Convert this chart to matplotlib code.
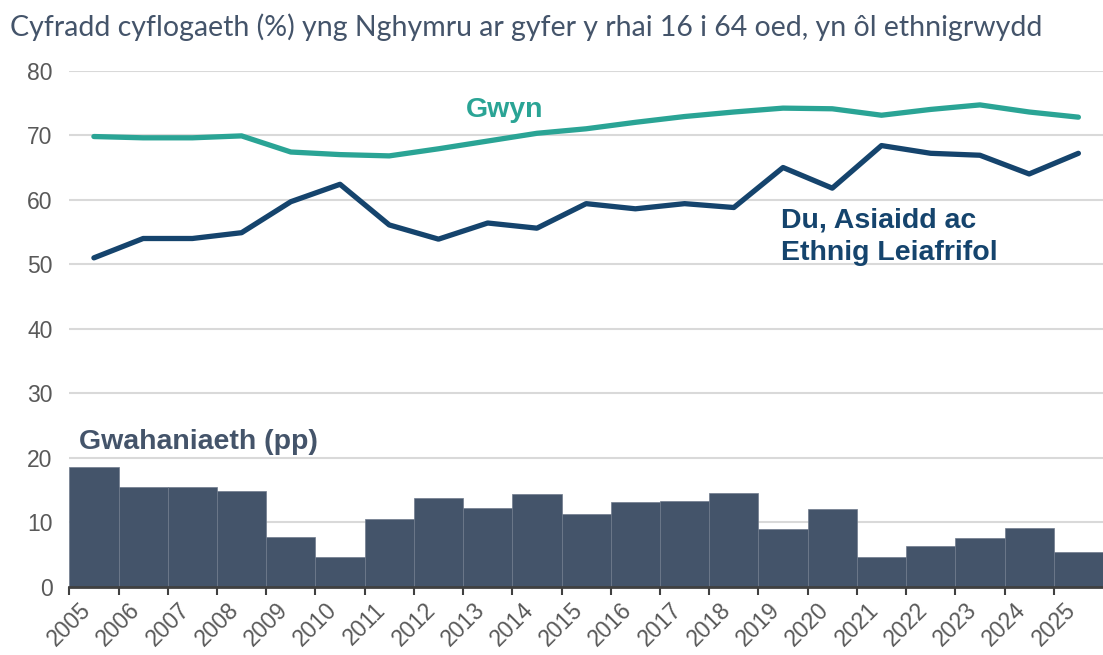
import matplotlib
matplotlib.use("Agg")
import matplotlib.pyplot as plt
import numpy as np

years = list(range(2005, 2026))
gwyn = [69.8, 69.6, 69.6, 69.9, 67.4, 67.0, 66.8, 67.9, 69.1, 70.3, 71.0, 72.0, 72.9, 73.6, 74.2, 74.1,
        73.1, 74.0, 74.7, 73.6, 72.8]
bame = [51.0, 54.0, 54.0, 54.9, 59.7, 62.4, 56.1, 53.9, 56.4, 55.6, 59.4, 58.6, 59.4, 58.8, 65.0, 61.8,
        68.4, 67.2, 66.9, 64.0, 67.2]
gap = [18.65, 15.5, 15.5, 14.8, 7.7, 4.6, 10.6, 13.8, 12.3, 14.4, 11.3, 13.1, 13.3, 14.5, 9.0, 12.1,
       4.6, 6.4, 7.6, 9.2, 5.45]
yticks = [0, 10, 20, 30, 40, 50, 60, 70, 80]

title = "Cyfradd cyflogaeth (%) yng Nghymru ar gyfer y rhai 16 i 64 oed, yn ôl ethnigrwydd"
lbl_gwyn = "Gwyn"
lbl_bame = "Du, Asiaidd ac\nEthnig Leiafrifol"
lbl_gap = "Gwahaniaeth (pp)"

C_TEAL = "#2AA495"
C_NAVY = "#15446D"
C_BAR = "#44546A"
C_GRID = "#D9D9D9"
C_TICK = "#595959"

plt.rcParams['font.family'] = ['Liberation Sans', 'DejaVu Sans']

fig = plt.figure(figsize=(11.03, 6.55), dpi=100)
ax = fig.add_axes([69.3 / 1103, 1 - 587 / 655, 1 - 69.3 / 1103, (587 - 70.7) / 655])

x = np.array(years, dtype=float)
ax.bar(x, gap, width=1.0, align='edge', color=C_BAR, edgecolor="#6F7B8C", linewidth=0.5, zorder=2)
ax.plot(x + 0.5, gwyn, color=C_TEAL, lw=3.8, solid_capstyle='round', solid_joinstyle='round', zorder=3)
ax.plot(x + 0.5, bame, color=C_NAVY, lw=3.8, solid_capstyle='round', solid_joinstyle='round', zorder=3)

ax.set_xlim(2005, 2026)
ax.set_ylim(0, 80)
ax.set_yticks(yticks)
ax.set_yticklabels([str(v) for v in yticks], fontsize=16.5, color=C_TICK)
ax.set_xticks(years)
ax.set_xticklabels([str(y) for y in years], fontsize=16.5, color=C_TICK, rotation=45, ha='center', va='top')
ax.tick_params(axis='y', length=0, pad=12)
ax.tick_params(axis='x', length=6, width=1.5, color="#404040", pad=2)
ax.grid(axis='y', color=C_GRID, lw=1.5, zorder=0)
ax.set_axisbelow(True)
for s in ['top', 'right', 'left']:
    ax.spines[s].set_visible(False)
ax.spines['bottom'].set_color("#404040")
ax.spines['bottom'].set_linewidth(2)
ax.spines['bottom'].set_zorder(4)

ax.text(2013.05, 72.9, lbl_gwyn, color=C_TEAL, fontsize=20.5, fontweight='bold', ha='left', va='baseline')
ax.text(2019.45, 50.7, lbl_bame, color=C_NAVY, fontsize=20.5, fontweight='bold', ha='left', va='baseline',
        linespacing=1.3)
ax.text(2005.2, 21.4, lbl_gap, color=C_BAR, fontsize=20.5, fontweight='bold', ha='left', va='baseline')

fig.text(10 / 1103, 1 - 35.7 / 655, title, color=C_BAR, fontsize=20.5, family=['Lato', 'DejaVu Sans'],
         ha='left', va='baseline')

fig.savefig("out.png", dpi=100)
